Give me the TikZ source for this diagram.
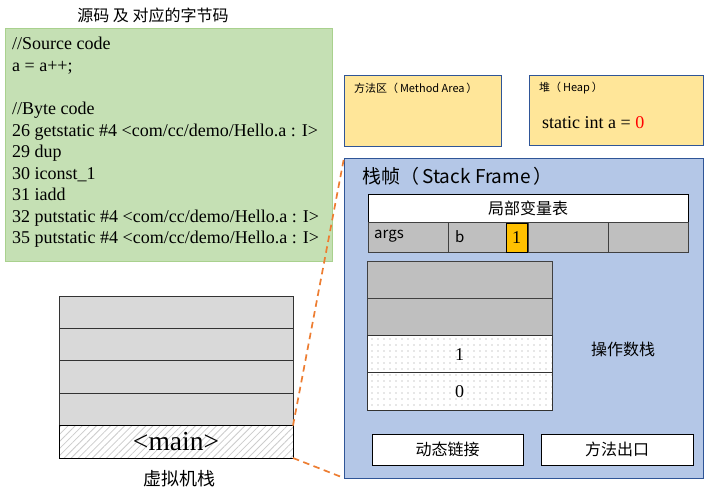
\documentclass[tikz,border=0pt]{standalone}
\usepackage{fontspec}
\setmainfont{Liberation Serif}
\newfontfamily\cjk{Noto Sans CJK SC}
\usetikzlibrary{patterns.meta}
\definecolor{codegreen}{HTML}{C5E0B4}
\definecolor{codeedge}{HTML}{A9D18E}
\definecolor{areayellow}{HTML}{FFE699}
\definecolor{areaedge}{HTML}{2F5597}
\definecolor{framefill}{HTML}{B4C7E7}
\definecolor{cellgray}{HTML}{BFBFBF}
\definecolor{vmgray}{HTML}{D9D9D9}
\definecolor{dashorange}{HTML}{ED7D31}
\definecolor{gold}{HTML}{FFC000}
\tikzset{
  blk/.style={rectangle, anchor=north west, inner sep=0pt, outer sep=0pt, line width=0.9pt},
  codeline/.style={anchor=base west, inner sep=0pt, font=\fontsize{18}{21.6}\selectfont},
  cjklabel/.style={inner sep=0pt, font=\cjk\fontsize{16}{18}\selectfont},
  dotcell/.style={blk, draw=black!80, preaction={fill=white}, pattern={Dots[distance=6pt,radius=0.6pt]}, pattern color=black!40},
  graycell/.style={blk, draw=black!75, fill=cellgray},
  vmcell/.style={blk, draw=black!80, fill=vmgray},
  smallbox/.style={blk, draw=black, fill=white},
  link/.style={draw=dashorange, line width=1.7pt, dash pattern=on 6.5pt off 4.5pt}
}
\begin{document}
\begin{tikzpicture}[x=1pt,y=-1pt]
\useasboundingbox (0,0) rectangle (704,501);

% code box
\node[cjklabel] (codetitle) at (153,15) {源码 及 对应的字节码};
\node[blk, draw=codeedge, fill=codegreen, minimum width=327pt, minimum height=233pt] (code) at (5,28) {};
\node[codeline] (c1) at (12,49.5) {//Source code};
\node[codeline] (c2) at (12,71) {a = a++;};
\node[codeline] (c3) at (12,114) {//Byte code};
\node[codeline] (c4) at (12,136) {26 getstatic \#4 <com/cc/demo/Hello.a : I>};
\node[codeline] (c5) at (12,157.5) {29 dup};
\node[codeline] (c6) at (12,179) {30 iconst\_1};
\node[codeline] (c7) at (12,200.5) {31 iadd};
\node[codeline] (c8) at (12,222) {32 putstatic \#4 <com/cc/demo/Hello.a : I>};
\node[codeline] (c9) at (12,243.5) {35 putstatic \#4 <com/cc/demo/Hello.a : I>};

% method area and heap
\node[blk, draw=areaedge, fill=areayellow, minimum width=157pt, minimum height=71pt] (method) at (344,75) {};
\node[anchor=west, inner sep=0pt, font=\cjk\fontsize{11}{13}\selectfont] (methodlabel) at (354,88) {方法区（\,Method Area\,）};
\node[blk, draw=areaedge, fill=areayellow, minimum width=174pt, minimum height=70pt] (heap) at (529,75) {};
\node[anchor=west, inner sep=0pt, font=\cjk\fontsize{11}{13}\selectfont] (heaplabel) at (539,88) {堆（\,Heap\,）};
\node[anchor=base west, inner sep=0pt, font=\fontsize{18}{21.6}\selectfont] (heapval) at (542,128) {static int a = \textcolor{red}{0}};

% stack frame
\node[blk, draw=areaedge, fill=framefill, minimum width=359pt, minimum height=320pt] (frame) at (344,158) {};
\node[anchor=west, inner sep=0pt, font=\cjk\fontsize{19}{22}\selectfont] (framelabel) at (362,176) {栈帧（\,Stack Frame\,）};

% local variable table
\node[smallbox, minimum width=320pt, minimum height=28pt] (lvt) at (368,194) {};
\node[cjklabel] (lvtlabel) at (528,208) {局部变量表};
\node[graycell, minimum width=80pt, minimum height=30pt] (lv1) at (368,222) {};
\node[graycell, minimum width=80pt, minimum height=30pt] (lv2) at (448,222) {};
\node[graycell, minimum width=80pt, minimum height=30pt] (lv3) at (528,222) {};
\node[graycell, minimum width=80pt, minimum height=30pt] (lv4) at (608,222) {};
\node[anchor=west, inner sep=0pt, font=\cjk\fontsize{15}{17}\selectfont] (argslabel) at (374,236.5) {args};
\node[anchor=west, inner sep=0pt, font=\cjk\fontsize{15}{17}\selectfont] (blabel) at (455,236.5) {b};
\node[blk, draw=black, fill=gold, minimum width=21pt, minimum height=29pt, font=\fontsize{18}{21.6}\selectfont] (bval) at (506,223) {1};

% operand stack
\node[graycell, minimum width=185pt, minimum height=37.25pt] (op1) at (367,261) {};
\node[graycell, minimum width=185pt, minimum height=37.25pt] (op2) at (367,298.25) {};
\node[dotcell, minimum width=185pt, minimum height=37.25pt, font=\fontsize{18}{21.6}\selectfont] (op3) at (367,335.5) {1};
\node[dotcell, minimum width=185pt, minimum height=37.25pt, font=\fontsize{18}{21.6}\selectfont] (op4) at (367,372.75) {0};
\node[cjklabel] (oplabel) at (623,349) {操作数栈};

% dynamic link and return
\node[smallbox, minimum width=151pt, minimum height=31pt, font=\cjk\fontsize{16}{18}\selectfont] (dynlink) at (372,434) {动态链接};
\node[smallbox, minimum width=152pt, minimum height=31pt, font=\cjk\fontsize{16}{18}\selectfont] (methodexit) at (541,434) {方法出口};

% VM stack
\node[vmcell, minimum width=234pt, minimum height=32.4pt] (vm1) at (59,296) {};
\node[vmcell, minimum width=234pt, minimum height=32.4pt] (vm2) at (59,328.4) {};
\node[vmcell, minimum width=234pt, minimum height=32.4pt] (vm3) at (59,360.8) {};
\node[vmcell, minimum width=234pt, minimum height=32.4pt] (vm4) at (59,393.2) {};
\node[blk, draw=black, preaction={fill=white}, pattern={Lines[angle=45,distance=5pt,line width=0.8pt]}, pattern color=black!20, minimum width=234pt, minimum height=32.4pt, font=\fontsize{27.5}{30}\selectfont] (vmmain) at (59,425.6) {<main>};
\node[font=\cjk\fontsize{18}{20}\selectfont, inner sep=0pt] (vmlabel) at (179,479) {虚拟机栈};

% zoom lines
\draw[link] (vmmain.north east) -- (frame.north west);
\draw[link] (vmmain.south east) -- (frame.south west);
\end{tikzpicture}
\end{document}
